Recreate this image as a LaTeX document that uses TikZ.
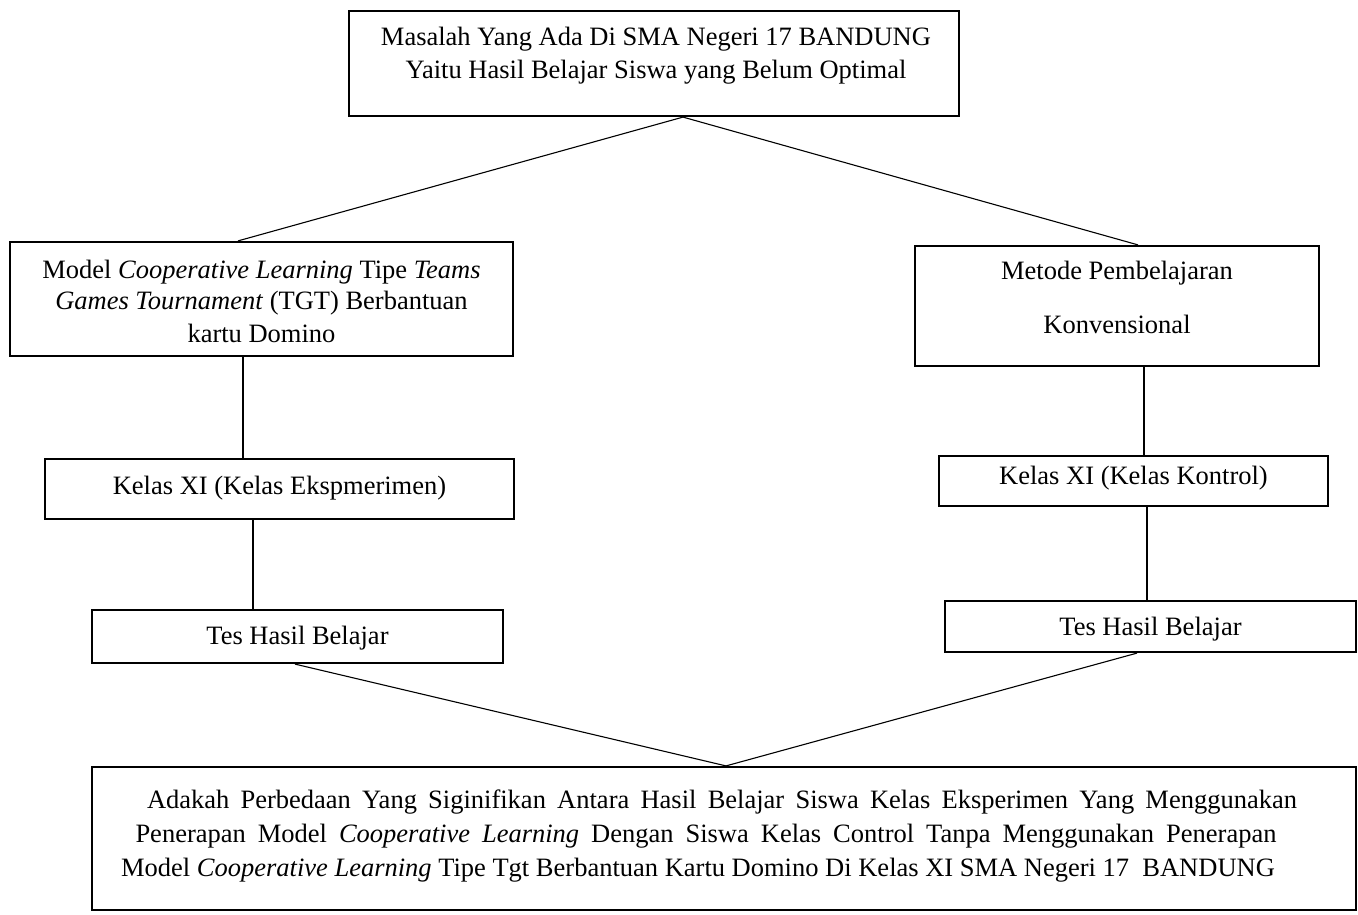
\documentclass[tikz,border=0pt]{standalone}
\usepackage{fontspec}
\setmainfont{Liberation Serif}
\begin{document}
\begin{tikzpicture}[x=1pt,y=1pt,
  box/.style={draw, line width=2.2pt, inner sep=0pt, rectangle},
  txt/.style={anchor=base, inner sep=0pt, font=\fontsize{26.5}{33}\selectfont},
  link/.style={line width=1.1pt}]
\fill[white] (0,0) rectangle (1358,-915);
\useasboundingbox (0,0) rectangle (1358,-915);
% boxes
\node[box, minimum width=610pt, minimum height=105pt] (T) at (654,-63.5) {};
\node[box, minimum width=503pt, minimum height=114pt] (L) at (261.5,-299) {};
\node[box, minimum width=404pt, minimum height=120pt] (R) at (1117,-306) {};
\node[box, minimum width=469pt, minimum height=60pt] (K1) at (279.5,-489) {};
\node[box, minimum width=389pt, minimum height=50pt] (K2) at (1133.5,-481) {};
\node[box, minimum width=411pt, minimum height=53pt] (E1) at (297.5,-636.5) {};
\node[box, minimum width=411pt, minimum height=51pt] (E2) at (1150.5,-626.5) {};
\node[box, minimum width=1264pt, minimum height=143pt] (B) at (724,-838.5) {};
% texts
\node[txt] (t1) at (656,-46) {Masalah Yang Ada Di SMA Negeri 17 BANDUNG};
\node[txt] (t2) at (656,-79) {Yaitu Hasil Belajar Siswa yang Belum Optimal};
\node[txt] (l1) at (261.5,-278) {Model \textit{Cooperative Learning} Tipe \textit{Teams}};
\node[txt] (l2) at (261.5,-309) {\textit{Games Tournament} (TGT) Berbantuan};
\node[txt] (l3) at (261.5,-342) {kartu Domino};
\node[txt] (r1) at (1117,-279) {Metode Pembelajaran};
\node[txt] (r2) at (1117,-333) {Konvensional};
\node[txt] (k1) at (279.5,-494) {Kelas XI (Kelas Ekspmerimen)};
\node[txt] (k2) at (1133.5,-484) {Kelas XI (Kelas Kontrol)};
\node[txt] (e1) at (297.5,-644) {Tes Hasil Belajar};
\node[txt] (e2) at (1150.5,-635) {Tes Hasil Belajar};
\node[txt] (b1) at (722,-808) {\makebox[1150pt][s]{Adakah Perbedaan Yang Siginifikan Antara Hasil Belajar Siswa Kelas Eksperimen Yang Menggunakan}};
\node[txt] (b2) at (706,-842) {\makebox[1141pt][s]{Penerapan Model \textit{Cooperative Learning} Dengan Siswa Kelas Control Tanpa Menggunakan Penerapan}};
\node[txt] (b3) at (698,-876) {Model \textit{Cooperative Learning} Tipe Tgt Berbantuan Kartu Domino Di Kelas XI SMA Negeri 17\ \ BANDUNG};
% connectors
\draw[link] ([xshift=29pt]T.south) -- ([xshift=-23.5pt]L.north);
\draw[link] ([xshift=29pt]T.south) -- ([xshift=21pt]R.north);
\draw[link] ([xshift=-18.5pt]L.south) -- ([xshift=-36.5pt]K1.north);
\draw[link] ([xshift=27pt]R.south) -- ([xshift=10.5pt]K2.north);
\draw[link] ([xshift=-26.5pt]K1.south) -- ([xshift=-44.5pt]E1.north);
\draw[link] ([xshift=13.5pt]K2.south) -- ([xshift=-3.5pt]E2.north);
\draw[link] ([xshift=-2.5pt]E1.south) -- ([xshift=2pt]B.north);
\draw[link] ([xshift=-13.5pt]E2.south) -- ([xshift=2pt]B.north);
\end{tikzpicture}
\end{document}
